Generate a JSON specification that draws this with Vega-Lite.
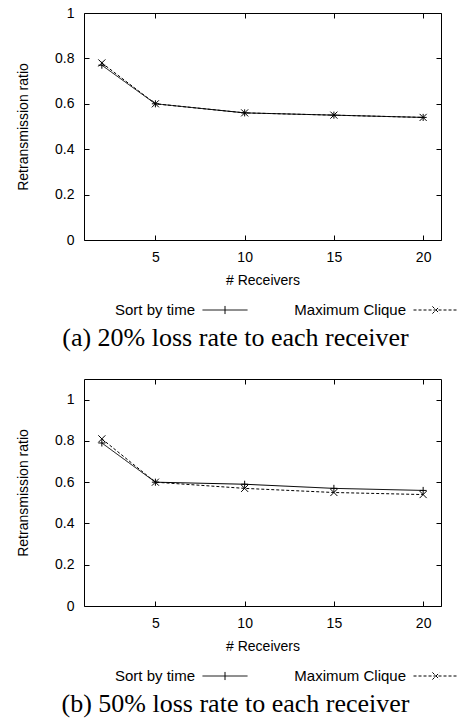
{
  "$schema": "https://vega.github.io/schema/vega-lite/v6.json",
  "background": "white",
  "padding": {"left": 16, "top": 5, "right": 5, "bottom": 5},
  "spacing": 26,
  "config": {
    "font": "Liberation Sans",
    "view": {"stroke": "black", "strokeWidth": 1},
    "axis": {"labelFont": "Liberation Sans", "labelFontSize": 14, "labelColor": "black", "titleFont": "Liberation Sans", "titleFontSize": 14, "titleFontWeight": "normal", "titleColor": "black", "grid": false, "domain": false, "tickColor": "black", "tickSize": -5, "tickWidth": 1},
    "legend": {"labelFont": "Liberation Sans", "labelFontSize": 15, "labelColor": "black"}
  },
  "datasets": {
    "a": [
      {"receivers": 2, "ratio": 0.77, "series": "Sort by time"},
      {"receivers": 5, "ratio": 0.60, "series": "Sort by time"},
      {"receivers": 10, "ratio": 0.56, "series": "Sort by time"},
      {"receivers": 15, "ratio": 0.55, "series": "Sort by time"},
      {"receivers": 20, "ratio": 0.54, "series": "Sort by time"},
      {"receivers": 2, "ratio": 0.78, "series": "Maximum Clique"},
      {"receivers": 5, "ratio": 0.60, "series": "Maximum Clique"},
      {"receivers": 10, "ratio": 0.56, "series": "Maximum Clique"},
      {"receivers": 15, "ratio": 0.55, "series": "Maximum Clique"},
      {"receivers": 20, "ratio": 0.54, "series": "Maximum Clique"}
    ],
    "b": [
      {"receivers": 2, "ratio": 0.79, "series": "Sort by time"},
      {"receivers": 5, "ratio": 0.60, "series": "Sort by time"},
      {"receivers": 10, "ratio": 0.59, "series": "Sort by time"},
      {"receivers": 15, "ratio": 0.57, "series": "Sort by time"},
      {"receivers": 20, "ratio": 0.56, "series": "Sort by time"},
      {"receivers": 2, "ratio": 0.81, "series": "Maximum Clique"},
      {"receivers": 5, "ratio": 0.60, "series": "Maximum Clique"},
      {"receivers": 10, "ratio": 0.57, "series": "Maximum Clique"},
      {"receivers": 15, "ratio": 0.55, "series": "Maximum Clique"},
      {"receivers": 20, "ratio": 0.54, "series": "Maximum Clique"}
    ]
  },
  "vconcat": [
    {
      "width": 357, "height": 227,
      "data": {"name": "a"},
      "title": {"text": "(a) 20% loss rate to each receiver", "orient": "bottom", "frame": "group", "anchor": "middle", "font": "Liberation Serif", "fontSize": 26, "fontWeight": "normal", "color": "black", "dx": -27, "offset": 7},
      "layer": [
        {
          "mark": {"type": "line", "color": "black", "strokeWidth": 1},
          "encoding": {
            "x": {"field": "receivers", "type": "quantitative", "scale": {"domain": [1, 21], "nice": false}, "axis": {"values": [5, 10, 15, 20], "title": "# Receivers", "labelPadding": 15, "titlePadding": 9}},
            "y": {"field": "ratio", "type": "quantitative", "scale": {"domain": [0, 1], "nice": false}, "axis": {"values": [0, 0.2, 0.4, 0.6, 0.8, 1], "format": "~g", "title": "Retransmission ratio", "labelPadding": 15, "titlePadding": 24}},
            "strokeDash": {"field": "series", "type": "nominal", "scale": {"domain": ["Sort by time", "Maximum Clique"], "range": [[1, 0], [3, 2]]},
              "legend": {"orient": "none", "legendX": 118, "legendY": 274, "direction": "horizontal", "title": null, "symbolSize": 2025, "symbolStrokeWidth": 1, "symbolStrokeColor": "black", "labelAlign": "right", "labelOffset": -53, "columnPadding": 44,
                "encode": {"symbols": {"update": {"shape": {"signal": "datum.value == 'Sort by time' ? 'M-1,0H1M0,-0.18V0.18' : 'M-1,0H1M-0.16,-0.16L0.16,0.16M-0.16,0.16L0.16,-0.16'"}}}}}}
          }
        },
        {
          "transform": [{"filter": "datum.series == 'Sort by time'"}],
          "mark": {"type": "point", "filled": false, "color": "black", "size": 50, "strokeWidth": 1, "opacity": 1, "shape": "M-1,0H1M0,-1V1"},
          "encoding": {
            "x": {"field": "receivers", "type": "quantitative", "axis": {"orient": "top", "values": [5, 10, 15, 20], "labels": false, "title": null}},
            "y": {"field": "ratio", "type": "quantitative", "axis": {"orient": "right", "values": [0, 0.2, 0.4, 0.6, 0.8, 1], "labels": false, "title": null}}
          }
        },
        {
          "transform": [{"filter": "datum.series == 'Maximum Clique'"}],
          "mark": {"type": "point", "filled": false, "color": "black", "size": 50, "strokeWidth": 1, "opacity": 1, "shape": "M-1,-1L1,1M-1,1L1,-1"},
          "encoding": {
            "x": {"field": "receivers", "type": "quantitative", "axis": null},
            "y": {"field": "ratio", "type": "quantitative", "axis": null}
          }
        }
      ],
      "resolve": {"axis": {"x": "independent", "y": "independent"}}
    },
    {
      "width": 357, "height": 227,
      "data": {"name": "b"},
      "title": {"text": "(b) 50% loss rate to each receiver", "orient": "bottom", "frame": "group", "anchor": "middle", "font": "Liberation Serif", "fontSize": 26, "fontWeight": "normal", "color": "black", "dx": -27, "offset": 7},
      "layer": [
        {
          "mark": {"type": "line", "color": "black", "strokeWidth": 1},
          "encoding": {
            "x": {"field": "receivers", "type": "quantitative", "scale": {"domain": [1, 21], "nice": false}, "axis": {"values": [5, 10, 15, 20], "title": "# Receivers", "labelPadding": 15, "titlePadding": 9}},
            "y": {"field": "ratio", "type": "quantitative", "scale": {"domain": [0, 1.1], "nice": false}, "axis": {"values": [0, 0.2, 0.4, 0.6, 0.8, 1], "format": "~g", "title": "Retransmission ratio", "labelPadding": 15, "titlePadding": 24}},
            "strokeDash": {"field": "series", "type": "nominal", "scale": {"domain": ["Sort by time", "Maximum Clique"], "range": [[1, 0], [3, 2]]},
              "legend": {"orient": "none", "legendX": 118, "legendY": 274, "direction": "horizontal", "title": null, "symbolSize": 2025, "symbolStrokeWidth": 1, "symbolStrokeColor": "black", "labelAlign": "right", "labelOffset": -53, "columnPadding": 44,
                "encode": {"symbols": {"update": {"shape": {"signal": "datum.value == 'Sort by time' ? 'M-1,0H1M0,-0.18V0.18' : 'M-1,0H1M-0.16,-0.16L0.16,0.16M-0.16,0.16L0.16,-0.16'"}}}}}}
          }
        },
        {
          "transform": [{"filter": "datum.series == 'Sort by time'"}],
          "mark": {"type": "point", "filled": false, "color": "black", "size": 50, "strokeWidth": 1, "opacity": 1, "shape": "M-1,0H1M0,-1V1"},
          "encoding": {
            "x": {"field": "receivers", "type": "quantitative", "axis": {"orient": "top", "values": [5, 10, 15, 20], "labels": false, "title": null}},
            "y": {"field": "ratio", "type": "quantitative", "axis": {"orient": "right", "values": [0, 0.2, 0.4, 0.6, 0.8, 1], "labels": false, "title": null}}
          }
        },
        {
          "transform": [{"filter": "datum.series == 'Maximum Clique'"}],
          "mark": {"type": "point", "filled": false, "color": "black", "size": 50, "strokeWidth": 1, "opacity": 1, "shape": "M-1,-1L1,1M-1,1L1,-1"},
          "encoding": {
            "x": {"field": "receivers", "type": "quantitative", "axis": null},
            "y": {"field": "ratio", "type": "quantitative", "axis": null}
          }
        }
      ],
      "resolve": {"axis": {"x": "independent", "y": "independent"}}
    }
  ],
  "resolve": {"scale": {"y": "independent", "strokeDash": "independent"}, "legend": {"strokeDash": "independent"}}
}
